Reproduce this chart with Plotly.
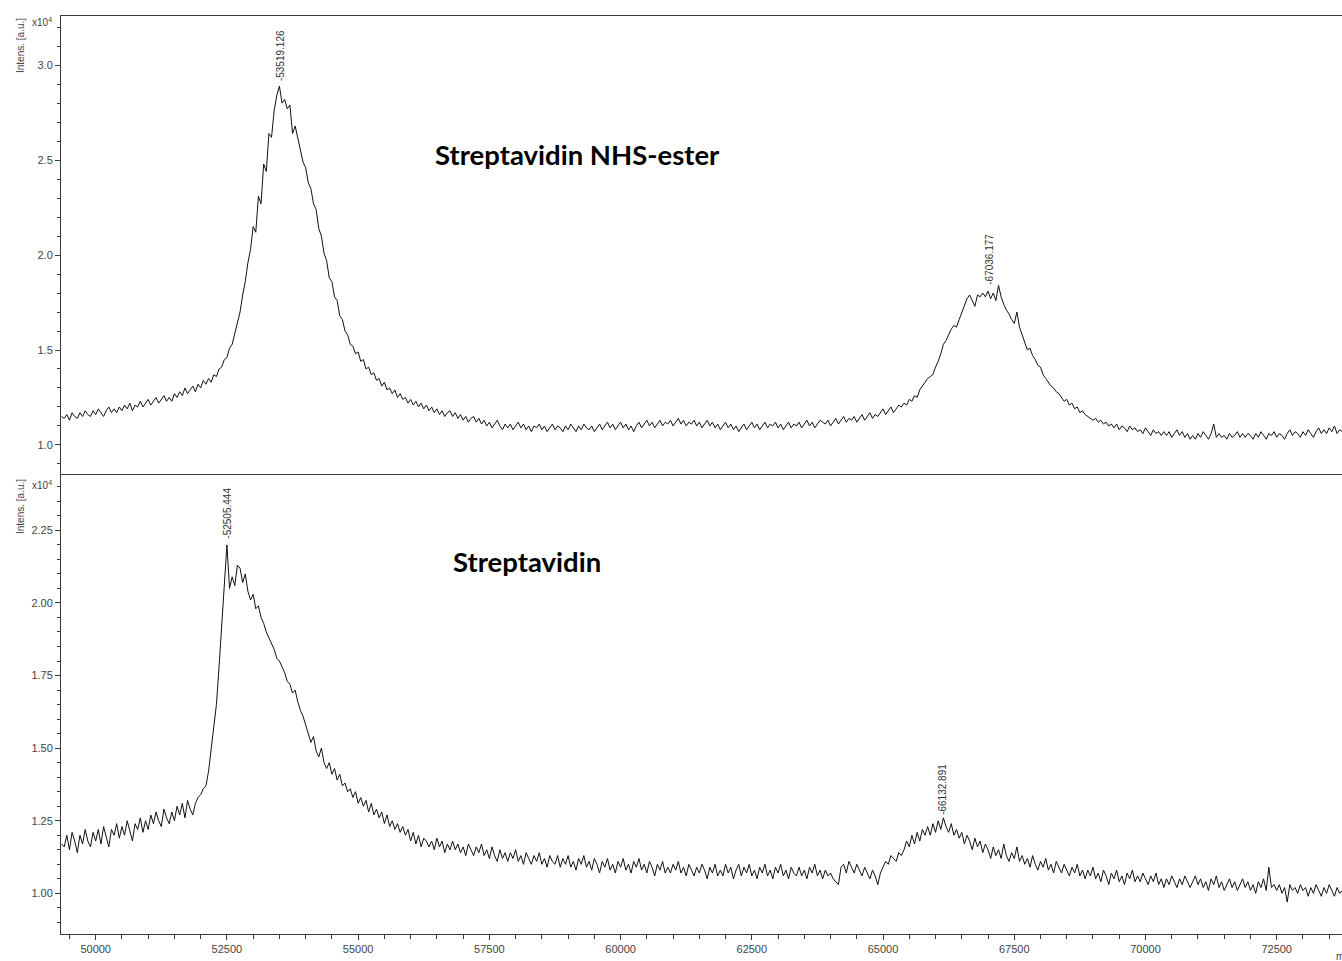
import plotly.graph_objects as go

# ---------------- data (intensities in units of 10^4 a.u.) ----------------
MZ_START = 49350      # first sampled m/z
MZ_STEP = 50          # sampling step of the read-off points

# Streptavidin NHS-ester (upper trace)
NHS_INT = [
    1.15,
    1.14, 1.16, 1.13, 1.17, 1.15, 1.14, 1.17, 1.15, 1.18, 1.16,
    1.15, 1.18, 1.16, 1.19, 1.17, 1.15, 1.18, 1.20, 1.17, 1.19,
    1.17, 1.20, 1.18, 1.21, 1.19, 1.22, 1.18, 1.21, 1.20, 1.23,
    1.20, 1.22, 1.24, 1.21, 1.23, 1.25, 1.22, 1.24, 1.26, 1.23,
    1.25, 1.23, 1.27, 1.25, 1.28, 1.26, 1.30, 1.27, 1.29, 1.31,
    1.28, 1.32, 1.30, 1.34, 1.32, 1.35, 1.33, 1.37, 1.36, 1.40,
    1.41, 1.45, 1.46, 1.51, 1.53, 1.59, 1.64, 1.70, 1.79, 1.86,
    1.96, 2.03, 2.15, 2.12, 2.31, 2.27, 2.48, 2.44, 2.64, 2.62,
    2.76, 2.84, 2.89, 2.80, 2.82, 2.77, 2.79, 2.64, 2.68, 2.61,
    2.55, 2.49, 2.46, 2.38, 2.35, 2.27, 2.24, 2.14, 2.10, 2.01,
    1.97, 1.88, 1.86, 1.78, 1.76, 1.68, 1.66, 1.60, 1.58, 1.53,
    1.52, 1.48, 1.49, 1.44, 1.45, 1.40, 1.41, 1.37, 1.38, 1.34,
    1.35, 1.31, 1.33, 1.29, 1.30, 1.27, 1.29, 1.25, 1.27, 1.24,
    1.25, 1.22, 1.24, 1.21, 1.23, 1.20, 1.22, 1.19, 1.21, 1.18,
    1.20, 1.17, 1.19, 1.16, 1.18, 1.15, 1.17, 1.18, 1.15, 1.17,
    1.14, 1.16, 1.13, 1.15, 1.12, 1.14, 1.15, 1.12, 1.14, 1.11,
    1.13, 1.10, 1.12, 1.09, 1.11, 1.13, 1.10, 1.08, 1.11, 1.09,
    1.11, 1.08, 1.10, 1.12, 1.09, 1.11, 1.08, 1.10, 1.07, 1.10,
    1.09, 1.11, 1.08, 1.10, 1.07, 1.09, 1.11, 1.08, 1.10, 1.09,
    1.07, 1.10, 1.08, 1.11, 1.09, 1.07, 1.10, 1.08, 1.11, 1.09,
    1.08, 1.10, 1.07, 1.09, 1.11, 1.08, 1.10, 1.12, 1.09, 1.11,
    1.08, 1.10, 1.12, 1.09, 1.11, 1.08, 1.10, 1.07, 1.10, 1.12,
    1.09, 1.11, 1.13, 1.10, 1.12, 1.09, 1.11, 1.13, 1.10, 1.12,
    1.11, 1.13, 1.10, 1.12, 1.14, 1.11, 1.13, 1.10, 1.12, 1.11,
    1.13, 1.10, 1.12, 1.09, 1.11, 1.13, 1.10, 1.12, 1.09, 1.11,
    1.08, 1.10, 1.12, 1.09, 1.11, 1.08, 1.10, 1.07, 1.09, 1.11,
    1.08, 1.10, 1.12, 1.09, 1.11, 1.08, 1.10, 1.12, 1.09, 1.11,
    1.10, 1.12, 1.09, 1.11, 1.08, 1.10, 1.12, 1.09, 1.11, 1.10,
    1.12, 1.09, 1.11, 1.13, 1.10, 1.12, 1.09, 1.11, 1.13, 1.12,
    1.11, 1.13, 1.10, 1.12, 1.14, 1.11, 1.13, 1.15, 1.12, 1.14,
    1.13, 1.15, 1.12, 1.14, 1.16, 1.13, 1.15, 1.17, 1.14, 1.16,
    1.15, 1.17, 1.19, 1.16, 1.18, 1.20, 1.17, 1.19, 1.21, 1.20,
    1.22, 1.21, 1.24, 1.23, 1.26, 1.25, 1.29, 1.31, 1.33, 1.35,
    1.36, 1.37, 1.41, 1.44, 1.48, 1.53, 1.55, 1.58, 1.61, 1.63,
    1.62, 1.66, 1.70, 1.74, 1.77, 1.79, 1.76, 1.73, 1.79, 1.78,
    1.80, 1.78, 1.81, 1.77, 1.80, 1.76, 1.84, 1.78, 1.74, 1.71,
    1.69, 1.66, 1.64, 1.70, 1.62, 1.58, 1.55, 1.50, 1.51, 1.47,
    1.45, 1.42, 1.41, 1.37, 1.35, 1.33, 1.31, 1.30, 1.28, 1.27,
    1.25, 1.23, 1.24, 1.21, 1.22, 1.19, 1.20, 1.17, 1.18, 1.16,
    1.15, 1.14, 1.13, 1.14, 1.12, 1.13, 1.11, 1.12, 1.10, 1.11,
    1.09, 1.11, 1.08, 1.10, 1.09, 1.07, 1.10, 1.08, 1.09, 1.07,
    1.08, 1.06, 1.09, 1.07, 1.05, 1.08, 1.06, 1.07, 1.05, 1.07,
    1.05, 1.07, 1.04, 1.06, 1.08, 1.05, 1.07, 1.04, 1.06, 1.03,
    1.05, 1.03, 1.06, 1.04, 1.07, 1.05, 1.03, 1.06, 1.11, 1.04,
    1.06, 1.04, 1.05, 1.03, 1.06, 1.04, 1.05, 1.07, 1.04, 1.06,
    1.04, 1.06, 1.05, 1.03, 1.06, 1.04, 1.07, 1.05, 1.03, 1.06,
    1.05, 1.07, 1.04, 1.06, 1.05, 1.03, 1.06, 1.08, 1.05, 1.07,
    1.06, 1.04, 1.07, 1.05, 1.08, 1.06, 1.04, 1.07, 1.09, 1.06,
    1.08, 1.06, 1.09, 1.07, 1.10, 1.06, 1.08, 1.07,
]

# Streptavidin (lower trace)
STREP_INT = [
    1.17,
    1.16, 1.20, 1.15, 1.21, 1.18, 1.14, 1.20, 1.17, 1.22, 1.18,
    1.16, 1.21, 1.18, 1.22, 1.17, 1.23, 1.19, 1.16, 1.22, 1.20,
    1.24, 1.19, 1.23, 1.20, 1.25, 1.21, 1.18, 1.24, 1.22, 1.26,
    1.21, 1.25, 1.22, 1.27, 1.24, 1.28, 1.25, 1.23, 1.29, 1.26,
    1.24, 1.28, 1.25, 1.30, 1.27, 1.31, 1.26, 1.32, 1.29, 1.27,
    1.31, 1.33, 1.34, 1.36, 1.37, 1.42, 1.49, 1.56, 1.65, 1.78,
    1.92, 2.03, 2.20, 2.05, 2.09, 2.06, 2.13, 2.12, 2.07, 2.10,
    2.04, 2.01, 2.03, 1.98, 1.99, 1.95, 1.93, 1.90, 1.88, 1.86,
    1.84, 1.81, 1.80, 1.78, 1.76, 1.73, 1.72, 1.69, 1.70, 1.66,
    1.63, 1.61, 1.58, 1.55, 1.52, 1.54, 1.49, 1.47, 1.50, 1.45,
    1.43, 1.45, 1.41, 1.43, 1.39, 1.41, 1.37, 1.38, 1.35, 1.36,
    1.33, 1.35, 1.31, 1.33, 1.30, 1.32, 1.28, 1.31, 1.27, 1.29,
    1.26, 1.28, 1.24, 1.27, 1.23, 1.25, 1.22, 1.24, 1.21, 1.23,
    1.20, 1.22, 1.18, 1.21, 1.17, 1.20, 1.16, 1.19, 1.18, 1.16,
    1.18, 1.15, 1.19, 1.16, 1.18, 1.14, 1.17, 1.15, 1.18, 1.15,
    1.17, 1.14, 1.16, 1.13, 1.17, 1.15, 1.13, 1.16, 1.14, 1.17,
    1.13, 1.15, 1.12, 1.16, 1.13, 1.11, 1.15, 1.12, 1.14, 1.11,
    1.14, 1.12, 1.15, 1.11, 1.13, 1.10, 1.14, 1.12, 1.10, 1.13,
    1.11, 1.14, 1.10, 1.12, 1.09, 1.13, 1.11, 1.10, 1.13, 1.09,
    1.12, 1.10, 1.13, 1.09, 1.11, 1.08, 1.12, 1.10, 1.13, 1.09,
    1.11, 1.08, 1.12, 1.10, 1.07, 1.11, 1.09, 1.12, 1.08, 1.10,
    1.07, 1.11, 1.09, 1.12, 1.08, 1.10, 1.07, 1.11, 1.09, 1.12,
    1.08, 1.10, 1.07, 1.11, 1.09, 1.06, 1.10, 1.08, 1.11, 1.07,
    1.09, 1.07, 1.10, 1.08, 1.11, 1.07, 1.09, 1.06, 1.10, 1.08,
    1.06, 1.09, 1.07, 1.10, 1.08, 1.05, 1.09, 1.07, 1.10, 1.06,
    1.08, 1.06, 1.10, 1.07, 1.09, 1.05, 1.08, 1.10, 1.06, 1.09,
    1.07, 1.10, 1.06, 1.08, 1.05, 1.09, 1.07, 1.10, 1.06, 1.08,
    1.05, 1.09, 1.07, 1.10, 1.06, 1.08, 1.05, 1.09, 1.07, 1.06,
    1.09, 1.06, 1.08, 1.05, 1.09, 1.07, 1.10, 1.06, 1.08, 1.05,
    1.08, 1.06, 1.07, 1.05, 1.04, 1.03, 1.09, 1.10, 1.07, 1.11,
    1.09, 1.07, 1.10, 1.08, 1.06, 1.09, 1.07, 1.05, 1.08, 1.06,
    1.03, 1.07, 1.09, 1.11, 1.10, 1.13, 1.12, 1.11, 1.14, 1.13,
    1.15, 1.18, 1.16, 1.20, 1.17, 1.21, 1.18, 1.22, 1.20, 1.23,
    1.20, 1.24, 1.21, 1.25, 1.22, 1.26, 1.23, 1.21, 1.24, 1.20,
    1.22, 1.19, 1.21, 1.17, 1.20, 1.18, 1.15, 1.19, 1.16, 1.18,
    1.14, 1.17, 1.15, 1.12, 1.16, 1.13, 1.15, 1.12, 1.17, 1.13,
    1.11, 1.14, 1.12, 1.16, 1.11, 1.13, 1.10, 1.12, 1.09, 1.13,
    1.10, 1.08, 1.11, 1.09, 1.12, 1.08, 1.10, 1.07, 1.11, 1.09,
    1.07, 1.10, 1.08, 1.06, 1.09, 1.07, 1.10, 1.06, 1.08, 1.05,
    1.08, 1.06, 1.09, 1.05, 1.07, 1.04, 1.08, 1.06, 1.03, 1.07,
    1.05, 1.08, 1.04, 1.06, 1.03, 1.07, 1.05, 1.08, 1.04, 1.06,
    1.04, 1.07, 1.05, 1.03, 1.06, 1.04, 1.07, 1.03, 1.05, 1.02,
    1.05, 1.03, 1.06, 1.04, 1.02, 1.05, 1.03, 1.06, 1.04, 1.02,
    1.04, 1.06, 1.03, 1.05, 1.02, 1.04, 1.01, 1.05, 1.03, 1.06,
    1.02, 1.04, 1.01, 1.03, 1.05, 1.02, 1.04, 1.01, 1.03, 1.05,
    1.02, 1.04, 1.01, 1.03, 1.00, 1.04, 1.02, 1.05, 1.01, 1.09,
    1.02, 1.03, 1.01, 1.03, 1.00, 1.02, 0.97, 1.03, 1.01, 1.02,
    1.00, 1.03, 1.01, 1.02, 0.99, 1.02, 1.00, 1.03, 1.01, 0.99,
    1.02, 1.00, 1.03, 1.01, 0.99, 1.02, 1.00, 1.01,
]

# labelled peaks
NHS_PEAK_MZ = [53519.126, 67036.177]
NHS_PEAK_Y = [2.90, 1.83]
STREP_PEAK_MZ = [52505.444, 66132.891]
STREP_PEAK_Y = [2.21, 1.26]

X_TICKS = [50000, 52500, 55000, 57500, 60000, 62500, 65000, 67500, 70000, 72500]
NHS_Y_TICKS = [1.0, 1.5, 2.0, 2.5, 3.0]
STREP_Y_TICKS = [1.00, 1.25, 1.50, 1.75, 2.00, 2.25]

MZ = [MZ_START + MZ_STEP * i for i in range(len(NHS_INT))]
assert len(NHS_INT) == len(STREP_INT)

# ---------------- layout geometry (pixels) ----------------
W, H = 1342, 961
ML, MR, MT, MB = 61, 0, 16, 27
PW, PH = W - ML - MR, H - MT - MB
SPLIT_PX = 474                      # separator line between panels
split = (H - MB - SPLIT_PX) / PH


def px(xp):
    return (xp - ML) / PW


def py(yp):
    return (H - MB - yp) / PH


AX_COLOR = "#3a3a3a"
TICK_FONT = dict(family="Liberation Sans, Arial, sans-serif", size=11, color="#444444")

fig = go.Figure()
fig.add_trace(go.Scatter(x=MZ, y=NHS_INT, mode="lines", xaxis="x2", yaxis="y2",
                         line=dict(color="#111111", width=1), showlegend=False))
fig.add_trace(go.Scatter(x=MZ, y=STREP_INT, mode="lines", xaxis="x", yaxis="y",
                         line=dict(color="#111111", width=1), showlegend=False))

x_range = [49339, 73744]
common_x = dict(range=x_range, showgrid=False, zeroline=False, showline=True,
                linecolor=AX_COLOR, linewidth=1)

peak_font = dict(family="Liberation Sans, Arial", size=10, color="#333")
annotations = []
for mz, yv in zip(NHS_PEAK_MZ, NHS_PEAK_Y):
    annotations.append(dict(x=mz, y=yv, xref="x2", yref="y2", text="-%.3f" % mz,
                            textangle=-90, showarrow=False, yanchor="bottom",
                            xanchor="center", yshift=1, font=peak_font))
for mz, yv in zip(STREP_PEAK_MZ, STREP_PEAK_Y):
    annotations.append(dict(x=mz, y=yv, xref="x", yref="y", text="-%.3f" % mz,
                            textangle=-90, showarrow=False, yanchor="bottom",
                            xanchor="center", yshift=1, font=peak_font))

title_font = dict(family="Lato, Open Sans, sans-serif", size=27.5, color="#000000")
annotations += [
    dict(x=px(577), y=py(155), xref="paper", yref="paper", text="<b>Streptavidin NHS-ester</b>",
         showarrow=False, xanchor="center", yanchor="middle", font=title_font),
    dict(x=px(527), y=py(561), xref="paper", yref="paper", text="<b>Streptavidin</b>",
         showarrow=False, xanchor="center", yanchor="middle", font=title_font),
]

small = dict(family="Liberation Sans, Arial", size=10, color="#444444")
for cy, xy in [(46, 22), (507, 485)]:
    annotations.append(dict(x=px(20), y=py(cy), xref="paper", yref="paper",
                            text="Intens. [a.u.]", textangle=-90, showarrow=False,
                            xanchor="center", yanchor="middle", font=small))
    annotations.append(dict(x=px(42), y=py(xy), xref="paper", yref="paper",
                            text="x10<sup>4</sup>", showarrow=False,
                            xanchor="center", yanchor="middle", font=small))
annotations.append(dict(x=px(1334), y=py(956), xref="paper", yref="paper", text="m/z",
                        showarrow=False, xanchor="left", yanchor="middle", font=small))

fig.update_layout(
    width=W, height=H,
    margin=dict(l=ML, r=MR, t=MT, b=MB),
    paper_bgcolor="white", plot_bgcolor="white",
    xaxis=dict(**common_x, anchor="y", domain=[0, 1], tickvals=X_TICKS,
               ticktext=[str(v) for v in X_TICKS], ticks="outside", ticklen=5,
               tickcolor=AX_COLOR, tickfont=TICK_FONT,
               minor=dict(dtick=500, tick0=0, ticks="outside", ticklen=4, tickcolor=AX_COLOR)),
    xaxis2=dict(**common_x, anchor="y2", domain=[0, 1], matches="x", mirror=True,
                showticklabels=False, ticks=""),
    yaxis=dict(domain=[0, split], range=[0.860, 2.444], tickvals=STREP_Y_TICKS,
               ticktext=["%.2f" % v for v in STREP_Y_TICKS], ticks="outside", ticklen=5,
               tickcolor=AX_COLOR, tickfont=TICK_FONT, showgrid=False, zeroline=False,
               showline=True, linecolor=AX_COLOR, linewidth=1,
               minor=dict(dtick=0.05, tick0=0, ticks="outside", ticklen=3, tickcolor=AX_COLOR)),
    yaxis2=dict(domain=[split, 1], range=[0.847, 3.259], tickvals=NHS_Y_TICKS,
                ticktext=["%.1f" % v for v in NHS_Y_TICKS], ticks="outside", ticklen=5,
                tickcolor=AX_COLOR, tickfont=TICK_FONT, showgrid=False, zeroline=False,
                showline=True, linecolor=AX_COLOR, linewidth=1,
                minor=dict(dtick=0.1, tick0=0, ticks="outside", ticklen=3, tickcolor=AX_COLOR)),
    annotations=annotations,
)

fig.write_html("out.html", config={"displayModeBar": False},
               post_script="document.body.style.margin='0px';document.body.style.overflow='hidden';")
